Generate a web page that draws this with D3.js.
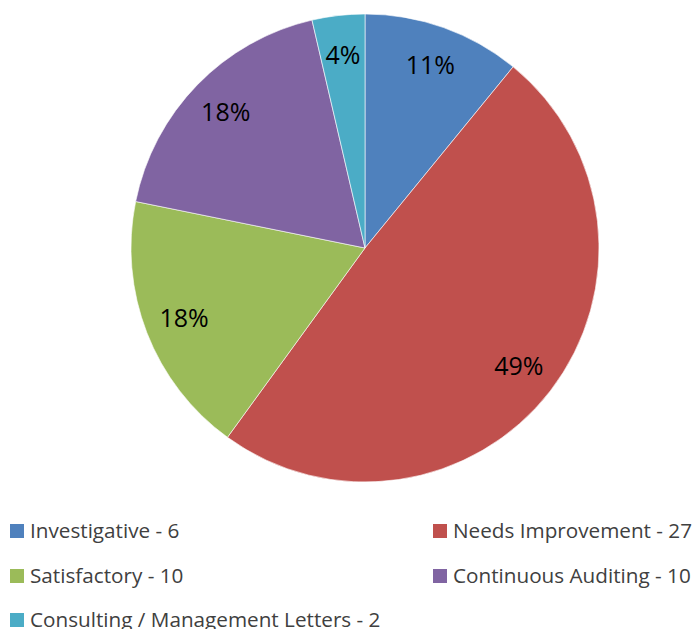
<!DOCTYPE html>
<html>
<head>
<meta charset="utf-8">
<script src="https://cdn.jsdelivr.net/npm/d3@7"></script>
<style>
  body { margin: 0; background: #fff; }
  svg { display: block; font-family: "Open Sans", sans-serif; }
</style>
</head>
<body>
<div id="chart"></div>
<script>
// Data
const categories = ['Investigative', 'Needs Improvement', 'Satisfactory', 'Continuous Auditing', 'Consulting / Management Letters'];
const counts = [6, 27, 10, 10, 2];
const colors = ['#4F81BD', '#C0504D', '#9BBB59', '#8064A2', '#4BACC6'];

const svgWidth = 698, svgHeight = 629;
const cx = 365, cy = 248, radius = 234;

const svg = d3.select('#chart')
    .append('svg')
    .attr('width', svgWidth)
    .attr('height', svgHeight);

const total = d3.sum(counts);
const pie = d3.pie().sort(null).value(d => d);
const arcs = pie(counts);

const arc = d3.arc().innerRadius(0).outerRadius(radius);
const labelArc = d3.arc().innerRadius(radius * 0.83).outerRadius(radius * 0.83);

const g = svg.append('g')
    .attr('transform', `translate(${cx}, ${cy})`);

// Slices
g.selectAll('path')
    .data(arcs)
    .enter()
    .append('path')
    .attr('d', arc)
    .attr('fill', (d, i) => colors[i])
    .attr('stroke', '#fff')
    .attr('stroke-width', 0.6);

// Percent labels
g.selectAll('text')
    .data(arcs)
    .enter()
    .append('text')
    .attr('transform', d => `translate(${labelArc.centroid(d)})`)
    .attr('text-anchor', 'middle')
    .attr('dy', '0.35em')
    .style('font-size', '25px')
    .style('fill', '#000')
    .text(d => Math.round(d.data / total * 100) + '%');

// Legend
const legendPos = [
    { x: 10, y: 531 }, { x: 433, y: 531 },
    { x: 10, y: 576 }, { x: 433, y: 576 },
    { x: 10, y: 620 }
];

const legend = svg.selectAll('.legend')
    .data(categories)
    .enter()
    .append('g')
    .attr('class', 'legend')
    .attr('transform', (d, i) => `translate(${legendPos[i].x}, ${legendPos[i].y})`);

legend.append('rect')
    .attr('x', 0)
    .attr('y', -7)
    .attr('width', 14)
    .attr('height', 14)
    .attr('fill', (d, i) => colors[i]);

legend.append('text')
    .attr('x', 20)
    .attr('y', 0)
    .attr('dy', '0.35em')
    .style('font-size', '20.7px')
    .style('fill', '#404040')
    .text((d, i) => `${d} - ${counts[i]}`);
</script>
</body>
</html>
